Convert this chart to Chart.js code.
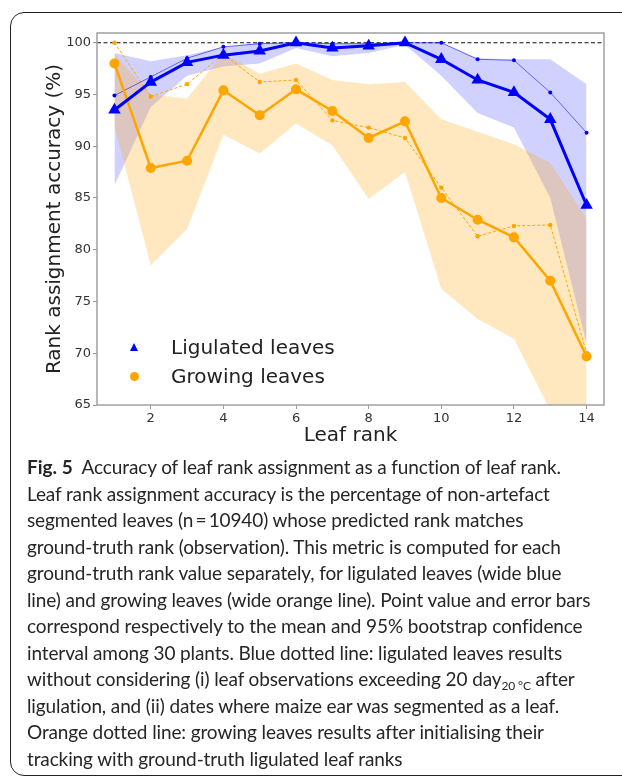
<!DOCTYPE html>
<html>
<head>
<meta charset="utf-8">
<script src="https://cdn.jsdelivr.net/npm/chart.js@4.4.1/dist/chart.umd.min.js"></script>
<style>
  body { margin: 0; background: #fff; width: 622px; height: 778px; overflow: hidden; position: relative; }
  #card { position: absolute; left: 10px; top: 12px; width: 700px; height: 762px; border: 1.5px solid #222; border-radius: 14px; }
  #chart { position: absolute; left: 0; top: 0; }
  .leg { position: absolute; left: 171px; font: 20px "DejaVu Sans"; color: #222; line-height: 24px; }
  .tri { position: absolute; width: 0; height: 0; border-left: 4.5px solid transparent; border-right: 4.5px solid transparent; border-bottom: 8px solid #0000ff; }
  .dot { position: absolute; width: 9px; height: 9px; border-radius: 50%; background: #ffa500; }
  #caption { position: absolute; left: 27px; top: 454px; font: 19px Lato, "Noto Sans", sans-serif; color: #262626; line-height: 26.5px; white-space: nowrap; letter-spacing: -0.12px; }
  #caption b { font-weight: 700; letter-spacing: 0; }
  sub { font-size: 12px; vertical-align: -4px; line-height: 0; }
</style>
</head>
<body>
<div id="card"></div>
<canvas id="chart" width="622" height="460"></canvas>
<div class="tri" style="left:130px;top:343px"></div>
<div class="leg" style="top:335px">Ligulated leaves</div>
<div class="dot" style="left:130px;top:372px"></div>
<div class="leg" style="top:364px">Growing leaves</div>
<div id="caption">
<div><b>Fig. 5</b>&nbsp; Accuracy of leaf rank assignment as a function of leaf rank.</div>
<div>Leaf rank assignment accuracy is the percentage of non-artefact</div>
<div>segmented leaves (n&#8201;=&#8201;10940) whose predicted rank matches</div>
<div>ground-truth rank (observation). This metric is computed for each</div>
<div>ground-truth rank value separately, for ligulated leaves (wide blue</div>
<div>line) and growing leaves (wide orange line). Point value and error bars</div>
<div>correspond respectively to the mean and 95% bootstrap confidence</div>
<div>interval among 30 plants. Blue dotted line: ligulated leaves results</div>
<div>without considering (i) leaf observations exceeding 20 day<sub>20 °C</sub> after</div>
<div>ligulation, and (ii) dates where maize ear was segmented as a leaf.</div>
<div>Orange dotted line: growing leaves results after initialising their</div>
<div>tracking with ground-truth ligulated leaf ranks</div>
</div>
<script>
const ranks = [1, 2, 3, 4, 5, 6, 7, 8, 9, 10, 11, 12, 13, 14];

// ligulated leaves: mean, 95% CI, and filtered (dotted) version
const ligMean = [93.5, 96.2, 98.1, 98.8, 99.2, 100, 99.5, 99.7, 100, 98.4, 96.4, 95.2, 92.6, 84.3];
const ligLow = [86.2, 93.8, 96.8, 97.7, 98.0, 99.5, 98.7, 99.0, 99.8, 96.8, 93.2, 91.8, 85.0, 70.9];
const ligHigh = [99.0, 98.2, 98.8, 99.6, 100, 100, 100, 100, 100, 100, 98.5, 98.4, 98.4, 96.0];
const ligFiltered = [94.9, 96.7, 98.5, 99.6, 99.9, 100, 99.9, 99.9, 100, 100, 98.4, 98.3, 95.2, 91.3];

// growing leaves: mean, 95% CI, and initialised (dotted) version
const growMean = [98.0, 87.9, 88.6, 95.4, 93.0, 95.5, 93.4, 90.8, 92.4, 85.0, 82.9, 81.2, 77.0, 69.7];
const growLow = [91.9, 78.5, 82.0, 91.1, 89.3, 92.2, 90.1, 84.9, 87.5, 76.2, 73.3, 71.4, 64.5, 55.0];
const growHigh = [98.9, 95.0, 94.6, 99.0, 97.0, 98.0, 96.4, 96.0, 96.2, 92.6, 91.4, 90.2, 88.4, 83.0];
const growInit = [100, 94.8, 96.0, 98.9, 96.2, 96.4, 92.5, 91.8, 90.8, 86.0, 81.3, 82.3, 82.4, 70.0];

const xTicks = [2, 4, 6, 8, 10, 12, 14];
const yTicks = [65, 70, 75, 80, 85, 90, 95, 100];
const refLine = 100;

const pts = vals => vals.map((v, i) => ({ x: ranks[i], y: v }));

const BLUE = '#0000ff';
const ORANGE = '#ffa500';

// frame around the plot + dashed line at 100 %
const framePlugin = {
    id: 'frame',
    beforeDatasetsDraw(chart) {
        const { ctx, chartArea: a, scales: { y } } = chart;
        const yy = y.getPixelForValue(refLine);
        ctx.save();
        ctx.strokeStyle = '#111';
        ctx.lineWidth = 1.2;
        ctx.setLineDash([4, 2.5]);
        ctx.beginPath();
        ctx.moveTo(a.left, yy);
        ctx.lineTo(a.right, yy);
        ctx.stroke();
        ctx.restore();
    },
    afterDraw(chart) {
        const { ctx, chartArea: a } = chart;
        ctx.save();
        ctx.strokeStyle = '#a0a0a0';
        ctx.lineWidth = 1.5;
        ctx.strokeRect(a.left, a.top, a.right - a.left, a.bottom - a.top);
        ctx.restore();
    }
};

const ctx = document.getElementById('chart').getContext('2d');
new Chart(ctx, {
    type: 'line',
    data: {
        datasets: [
            {
                label: 'Ligulated leaves', data: pts(ligMean),
                borderColor: BLUE, backgroundColor: BLUE, borderWidth: 3,
                pointStyle: 'triangle', pointRadius: 4.2, fill: false
            },
            {
                label: 'Growing leaves', data: pts(growMean),
                borderColor: ORANGE, backgroundColor: ORANGE, borderWidth: 2.5,
                pointStyle: 'circle', pointRadius: 3.8, fill: false
            },
            {
                label: 'Ligulated (filtered)', data: pts(ligFiltered),
                borderColor: 'rgba(0,0,255,0.6)', backgroundColor: BLUE, borderWidth: 0.9,
                pointRadius: 2, pointBorderWidth: 0, fill: false
            },
            {
                label: 'Growing (initialised)', data: pts(growInit),
                borderColor: ORANGE, backgroundColor: ORANGE, borderWidth: 1, borderDash: [3, 2],
                pointRadius: 2.2, pointBorderWidth: 0, fill: false
            },
            {
                label: 'Growing CI high', data: pts(growHigh),
                borderWidth: 0, pointRadius: 0,
                backgroundColor: 'rgba(255,165,0,0.25)', fill: '+1'
            },
            { label: 'Growing CI low', data: pts(growLow), borderWidth: 0, pointRadius: 0, fill: false },
            {
                label: 'Ligulated CI high', data: pts(ligHigh),
                borderWidth: 0, pointRadius: 0,
                backgroundColor: 'rgba(0,0,255,0.18)', fill: '+1'
            },
            { label: 'Ligulated CI low', data: pts(ligLow), borderWidth: 0, pointRadius: 0, fill: false }
        ]
    },
    options: {
        responsive: false,
        animation: false,
        tension: 0,
        layout: { padding: { top: 33, right: 18, left: 0, bottom: 0 } },
        plugins: { legend: { display: false }, tooltip: { enabled: false } },
        scales: {
            x: {
                type: 'linear', min: 0.52, max: 14.48,
                afterBuildTicks: axis => { axis.ticks = xTicks.map(v => ({ value: v })); },
                afterFit: scale => { scale.height = 55; },
                grid: { drawOnChartArea: false, drawTicks: true, tickLength: 4, color: '#999' },
                border: { display: false },
                ticks: { font: { family: 'DejaVu Sans', size: 13 }, color: '#333', padding: 2, maxRotation: 0 },
                title: {
                    display: true, text: 'Leaf rank',
                    font: { family: 'DejaVu Sans', size: 20 }, color: '#222',
                    padding: { top: 0, bottom: 12 }
                }
            },
            y: {
                min: 65, max: 100.94,
                afterBuildTicks: axis => { axis.ticks = yTicks.map(v => ({ value: v })); },
                afterFit: scale => { scale.width = 97; },
                grid: { drawOnChartArea: false, drawTicks: true, tickLength: 4, color: '#999' },
                border: { display: false },
                ticks: { font: { family: 'DejaVu Sans', size: 13 }, color: '#333', padding: 2 },
                title: {
                    display: true, text: 'Rank assignment accuracy (%)',
                    font: { family: 'DejaVu Sans', size: 20 }, color: '#222',
                    padding: { top: 43, bottom: 0 }
                }
            }
        }
    },
    plugins: [framePlugin]
});
</script>
</body>
</html>
